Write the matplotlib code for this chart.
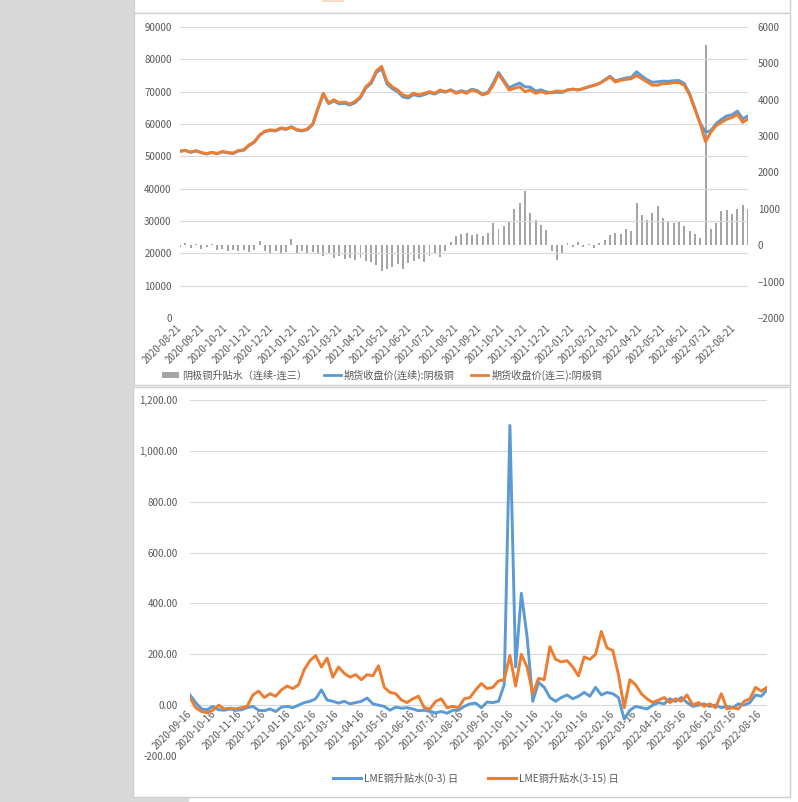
import numpy as np
import pandas as pd
import matplotlib
matplotlib.use('Agg')
import matplotlib.pyplot as plt
from matplotlib.patches import Rectangle, Patch
from matplotlib.lines import Line2D
from matplotlib.ticker import FuncFormatter

plt.rcParams['font.family'] = ['Noto Sans CJK SC', 'DejaVu Sans']

# ---- top chart: weekly samples from 2020-08-21 ----
top_start = '2020-08-21'
spread = [-50, 60, -80, 40, -100, -60, 30, -120, -90, -150,
          -130, -160, -120, -180, -140, 120, -150, -200, -160, -220,
          -180, 180, -200, -150, -230, -180, -250, -300, -220, -350,
          -300, -380, -340, -400, -360, -420, -450, -550, -720, -650,
          -600, -520, -640, -480, -420, -380, -450, -300, -250, -320,
          -150, 80, 250, 300, 340, 280, 320, 260, 350, 600,
          450, 520, 650, 1000, 1150, 1500, 880, 700, 560, 430,
          -150, -400, -250, 60, -50, 80, -60, 40, -80, 60,
          150, 280, 350, 300, 450, 400, 1150, 820, 700, 890,
          1070, 750, 680, 600, 650, 520, 380, 300, 200, 5500,
          450, 600, 950, 980, 850, 1000, 1100, 1000]
close_third = [51600, 51800, 51300, 51700, 51200, 50800, 51200, 50900, 51500, 51200,
               51000, 51800, 52000, 53500, 54500, 56500, 57800, 58200, 58000, 58800,
               58500, 59000, 58300, 58000, 58500, 60000, 65000, 69500, 66500, 67500,
               66500, 66800, 66200, 67000, 68500, 71500, 73000, 76500, 77800, 73000,
               71500, 70500, 69000, 68500, 69500, 69000, 69500, 70000, 69500, 70500,
               70000, 70500, 69500, 70000, 69500, 70500, 70000, 69000, 69500, 72000,
               75500, 73000, 70500, 71000, 71500, 70000, 70500, 69500, 70000, 69500,
               69800, 70200, 70000, 70500, 70800, 70500, 71000, 71500, 72000, 72500,
               73500, 74500, 73000, 73500, 73800, 74000, 75000, 74000, 73000, 72000,
               72000, 72500, 72500, 72800, 72800, 72000, 69000, 64500, 60000, 54500,
               57500, 59500, 60500, 61500, 62000, 63000, 60500, 61500]
close_cont = [51550, 51860, 51220, 51740, 51100, 50740, 51230, 50780, 51410, 51050,
              50870, 51640, 51880, 53320, 54360, 56620, 57650, 58000, 57840, 58580,
              58320, 59180, 58100, 57850, 58270, 59820, 64750, 69200, 66280, 67150,
              66200, 66420, 65860, 66600, 68140, 71080, 72550, 75950, 77080, 72350,
              70900, 69980, 68360, 68020, 69080, 68620, 69050, 69700, 69250, 70180,
              69850, 70580, 69750, 70300, 69840, 70780, 70320, 69260, 69850, 72600,
              75950, 73520, 71150, 72000, 72650, 71500, 71380, 70200, 70560, 69930,
              69650, 69800, 69750, 70560, 70750, 70580, 70940, 71540, 71920, 72560,
              73650, 74780, 73350, 73800, 74250, 74400, 76150, 74820, 73700, 72890,
              73070, 73250, 73180, 73400, 73450, 72520, 69380, 64800, 60200, 57500,
              57950, 60100, 61450, 62480, 62850, 64000, 61600, 62500]

# ---- bottom chart: weekly samples from 2020-09-16 ----
lme_start = '2020-09-16'
lme_0_3 = [40, 10, -15, -18, -5, -18, -20, -15, -20, -18,
           -10, -5, -20, -22, -15, -25, -8, -5, -10, 0,
           10, 15, 25, 60, 20, 15, 8, 15, 5, 10,
           15, 28, 5, 0, -5, -20, -8, -12, -10, -15,
           -22, -20, -25, -30, -25, -32, -20, -20, -5, 5,
           8, -10, 12, 10, 15, 80, 1100, 150, 440, 270,
           15, 90, 70, 30, 15, 30, 40, 25, 35, 50,
           35, 70, 40, 50, 45, 30, -55, -20, -5, -10,
           -15, 0, 10, 5, 25, 15, 30, 10, -5, 0,
           5, -5, 0, -10, -5, -10, 5, 0, 10, 40,
           35, 60]
lme_3_15 = [30, -10, -25, -30, -20, 0, -15, -12, -15, -10,
            -5, 40, 55, 30, 45, 35, 60, 75, 65, 80,
            140, 175, 195, 150, 185, 110, 150, 125, 110, 120,
            100, 120, 115, 155, 70, 50, 45, 20, 10, 25,
            35, -10, -15, 15, 25, -10, -5, -10, 25, 30,
            60, 85, 65, 70, 95, 100, 195, 75, 200, 150,
            45, 105, 100, 230, 180, 170, 175, 150, 115, 190,
            180, 200, 290, 225, 215, 120, -10, 100, 80, 45,
            25, 10, 20, 30, 10, 25, 15, 40, 0, 10,
            -5, 5, -10, 45, -15, -10, -15, 15, 25, 70,
            55, 70]

W, H = 798, 802
BLUE = '#5B9BD5'
ORANGE = '#ED7D31'
BARC = '#A5A5A5'
GRID = '#D9D9D9'
TXT = '#595959'


def fx(x):
    return x / W


def fy(y):
    return 1 - y / H


fig = plt.figure(figsize=(W / 100, H / 100), dpi=100)
fig.patch.set_facecolor('white')

# page background and panel frames
fig.add_artist(Rectangle((0, 0), fx(133), 1, transform=fig.transFigure,
                         color='#D9D9D9', zorder=-5))
fig.add_artist(Rectangle((0, 0), fx(188), fy(797), transform=fig.transFigure,
                         color='#D9D9D9', zorder=-5))
for (x0, y0, x1, y1) in [(134, -2, 790, 13), (134, 13, 790, 385), (133, 387, 790, 797)]:
    fig.add_artist(Rectangle((fx(x0), fy(y1)), fx(x1) - fx(x0), fy(y0) - fy(y1),
                             transform=fig.transFigure, facecolor='white',
                             edgecolor='#CFCFCF', lw=1, zorder=-4))
fig.add_artist(Line2D([fx(323), fx(343)], [fy(0.5), fy(0.5)], transform=fig.transFigure,
                      color=ORANGE, lw=1.2, alpha=0.35))

# ---- top chart ----
top_dates = pd.date_range(top_start, periods=len(spread), freq='7D')
ax_bar = fig.add_axes([fx(180), fy(318), (748 - 180) / W, (318 - 27) / H])
ax_bar.patch.set_alpha(0)
ax_px = ax_bar.twinx()

ax_bar.bar(top_dates, spread, width=2.6, color=BARC, zorder=2)
ax_bar.set_ylim(-2000, 6000)
ax_bar.set_yticks(range(-2000, 6001, 1000))
ax_bar.yaxis.tick_right()

ax_px.plot(top_dates, close_cont, color=BLUE, lw=2.1, solid_joinstyle='round')
ax_px.plot(top_dates, close_third, color=ORANGE, lw=2.1, solid_joinstyle='round')
ax_px.set_ylim(0, 90000)
ax_px.set_yticks(range(0, 90001, 10000))
ax_px.yaxis.tick_left()
ax_px.grid(axis='y', color=GRID, lw=0.8)
ax_px.set_axisbelow(True)

ax_bar.set_xlim(top_dates[0], top_dates[-1])
top_ticks = pd.date_range('2020-08-21', '2022-08-21', freq=pd.DateOffset(months=1))
ax_bar.set_xticks(top_ticks)
ax_bar.set_xticklabels([d.strftime('%Y-%m-%d') for d in top_ticks], rotation=45,
                       ha='right', va='center', rotation_mode='anchor')
for a in (ax_bar, ax_px):
    for s in a.spines.values():
        s.set_visible(False)
    a.tick_params(length=0, labelsize=7, labelcolor=TXT)
ax_px.tick_params(axis='y', pad=6)
ax_bar.tick_params(axis='y', pad=7)
ax_bar.tick_params(axis='x', pad=6)

top_handles = [Patch(facecolor=BARC, edgecolor='none'),
               Line2D([], [], color=BLUE, lw=2),
               Line2D([], [], color=ORANGE, lw=2)]
top_labels = ['阴极铜升贴水（连续-连三）', '期货收盘价(连续):阴极铜', '期货收盘价(连三):阴极铜']
fig.legend(top_handles, top_labels, loc='center left',
           bbox_to_anchor=(fx(162), fy(375)), ncol=3, frameon=False,
           fontsize=7.3, handlelength=1.7, handleheight=0.5, handletextpad=0.3,
           columnspacing=1.6, labelcolor=TXT, borderpad=0, borderaxespad=0)

# ---- bottom chart ----
lme_dates = pd.date_range(lme_start, periods=len(lme_0_3), freq='7D')
ax_lme = fig.add_axes([fx(190), fy(756), (767 - 190) / W, (756 - 400) / H])
ax_lme.spines['bottom'].set_position(('data', 0))
for s in ax_lme.spines.values():
    s.set_visible(False)
ax_lme.plot(lme_dates, lme_0_3, color=BLUE, lw=2.1, solid_joinstyle='round')
ax_lme.plot(lme_dates, lme_3_15, color=ORANGE, lw=2.1, solid_joinstyle='round')
ax_lme.set_ylim(-200, 1200)
ax_lme.set_yticks(range(-200, 1201, 200))
ax_lme.yaxis.set_major_formatter(FuncFormatter(lambda v, p: f'{v:,.2f}'))
ax_lme.grid(axis='y', color=GRID, lw=0.8)
ax_lme.set_axisbelow(True)
ax_lme.set_xlim(lme_dates[0], lme_dates[-1])
lme_ticks = pd.date_range('2020-09-16', '2022-08-16', freq=pd.DateOffset(months=1))
ax_lme.set_xticks(lme_ticks)
ax_lme.set_xticklabels([d.strftime('%Y-%m-%d') for d in lme_ticks], rotation=45,
                       ha='right', va='center', rotation_mode='anchor')
ax_lme.tick_params(length=0, labelsize=7, labelcolor=TXT)
ax_lme.tick_params(axis='y', pad=9)
ax_lme.tick_params(axis='x', pad=5)

lme_handles = [Line2D([], [], color=BLUE, lw=2.2), Line2D([], [], color=ORANGE, lw=2.2)]
fig.legend(lme_handles, ['LME铜升贴水(0-3) 日', 'LME铜升贴水(3-15) 日'], loc='center',
           bbox_to_anchor=(fx(476), fy(778)), ncol=2, frameon=False, fontsize=7.3,
           handlelength=2.7, handletextpad=0.3, columnspacing=3.0, labelcolor=TXT,
           borderpad=0, borderaxespad=0)

fig.savefig('out.png', dpi=100)
